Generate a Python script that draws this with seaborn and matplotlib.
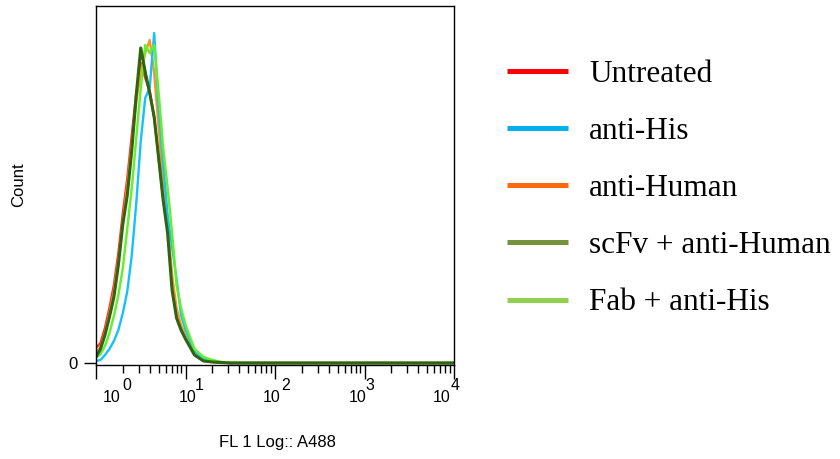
import numpy as np
import pandas as pd
import matplotlib
matplotlib.use("Agg")
import matplotlib.pyplot as plt
from matplotlib.lines import Line2D
from matplotlib.ticker import LogLocator, NullFormatter
import matplotlib.transforms as mtransforms
import seaborn as sns

# FL1 channel positions (log10 decades) and histogram counts per sample
log_fl = [0.0, 0.05, 0.1, 0.15, 0.2, 0.25, 0.3, 0.35, 0.4, 0.45, 0.5, 0.55, 0.6,
          0.65, 0.7, 0.75, 0.8, 0.85, 0.9, 0.95, 1.0, 1.1, 1.2, 1.3, 1.4, 1.5,
          2.0, 3.0, 4.0]

untreated = [15, 20, 35, 55, 78, 110, 150, 185, 228, 270, 300, 285, 272, 245,
             205, 165, 133, 82, 52, 36, 25, 9, 3, 1, 0.5, 0, 0, 0, 0]
anti_his = [2, 3, 8, 14, 22, 33, 50, 72, 108, 160, 222, 265, 275, 330, 255,
            200, 148, 116, 84, 48, 33, 12, 4, 1.5, 0.5, 0, 0, 0, 0]
anti_human = [10, 16, 30, 50, 72, 103, 142, 178, 220, 262, 290, 310, 323, 290,
              235, 180, 140, 88, 55, 38, 27, 10, 3, 1, 0.5, 0, 0, 0, 0]
scfv_anti_human = [6, 14, 28, 46, 66, 98, 139, 168, 213, 268, 315, 291, 270,
                   246, 205, 163, 130, 73, 45, 33, 24, 8, 2, 1, 0.5, 0, 0, 0, 0]
fab_anti_his = [5, 9, 17, 30, 47, 68, 95, 135, 175, 225, 275, 318, 310, 318,
                270, 215, 175, 130, 78, 55, 38, 14, 6, 3, 1, 0.3, 0, 0, 0]

samples = ["Untreated", "anti-His", "anti-Human", "scFv + anti-Human", "Fab + anti-His"]
series = [untreated, anti_his, anti_human, scfv_anti_human, fab_anti_his]

# histogram line colours and legend key colours
line_colors = ["#FF2A2A", "#14C0FF", "#FF9326", "#2F6410", "#66EE33"]
key_colors = ["#FF0000", "#00B0F0", "#FF6A10", "#76923C", "#92D050"]

draw_order = ["Untreated", "anti-Human", "anti-His", "Fab + anti-His", "scFv + anti-Human"]
decades = [0, 1, 2, 3, 4]

frames = []
for name, vals in zip(samples, series):
    frames.append(pd.DataFrame({"FL1": np.power(10.0, log_fl), "Count": vals, "Sample": name}))
df = pd.concat(frames, ignore_index=True)

sns.set_style("white")
plt.rcParams["font.family"] = ["Liberation Sans", "DejaVu Sans"]
plt.rcParams["text.color"] = "black"
plt.rcParams["axes.labelcolor"] = "black"
plt.rcParams["xtick.color"] = "black"
plt.rcParams["ytick.color"] = "black"

W, H = 840, 459
fig = plt.figure(figsize=(W / 100, H / 100), dpi=100)
ax = fig.add_axes([96 / W, 1 - 365 / H, (454 - 96) / W, (365 - 6) / H])

palette = dict(zip(samples, line_colors))
widths = {"Untreated": 1.7, "anti-Human": 1.7, "anti-His": 1.7,
          "Fab + anti-His": 1.8, "scFv + anti-Human": 2.2}
for name in draw_order:
    sns.lineplot(data=df[df["Sample"] == name], x="FL1", y="Count", color=palette[name],
                 lw=widths[name], sort=False, estimator=None, legend=False, ax=ax)

ax.set_xscale("log")
ax.set_xlim(1, 1e4)
ax.set_ylim(-2, 357)

for s in ax.spines.values():
    s.set_visible(True)
    s.set_color("black")
    s.set_linewidth(1.0)

ax.xaxis.set_minor_locator(LogLocator(base=10, subs=np.arange(2, 10), numticks=20))
ax.xaxis.set_minor_formatter(NullFormatter())
ax.set_xticks([10.0 ** d for d in decades])
ax.set_xticklabels(["" for _ in decades])
ax.tick_params(axis="x", which="major", direction="out", length=10, width=1.0, color="black", bottom=True)
ax.tick_params(axis="x", which="minor", direction="out", length=6, width=1.0, color="black", bottom=True)
ax.set_yticks([0])
ax.set_yticklabels(["0"], fontsize=12, color="black")
ax.tick_params(axis="y", which="major", direction="out", length=9, width=1.0, color="black", left=True, pad=4)

# decade labels: base "10" with a full-size raised exponent
base_shift = [16, 2, -3, -7, -12]
exp_shift = [31, 14, 11, 5, 1]
trans = mtransforms.blended_transform_factory(ax.transData, fig.transFigure)
for d, bs, es in zip(decades, base_shift, exp_shift):
    ax.annotate("10", xy=(10.0 ** d, 1 - 397 / H), xycoords=trans,
                xytext=(bs * 0.72, 0), textcoords="offset points", color="black",
                ha="center", va="center", fontsize=11.5, annotation_clip=False)
    ax.annotate(str(d), xy=(10.0 ** d, 1 - 385 / H), xycoords=trans,
                xytext=(es * 0.72, 0), textcoords="offset points", color="black",
                ha="center", va="center", fontsize=11.5, annotation_clip=False)

ax.set_xlabel("")
ax.set_ylabel("")
fig.text(277 / W, 1 - 443 / H, "FL 1 Log:: A488", ha="center", va="center",
         fontsize=12, color="black")
fig.text(19 / W, 1 - 185 / H, "Count", ha="center", va="center", rotation=90,
         fontsize=12, color="black")

handles = [Line2D([], [], color=c, lw=3.6, solid_capstyle="butt") for c in key_colors]
leg = fig.legend(handles, samples, loc="upper left", bbox_to_anchor=(507 / W, 1 - 60 / H),
                 frameon=False, prop={"family": "Liberation Serif", "size": 22.5},
                 handlelength=1.95, handletextpad=0.68, labelspacing=0.9,
                 borderpad=0, borderaxespad=0)
for t in leg.get_texts():
    t.set_color("black")

fig.savefig("out.png", dpi=100)
